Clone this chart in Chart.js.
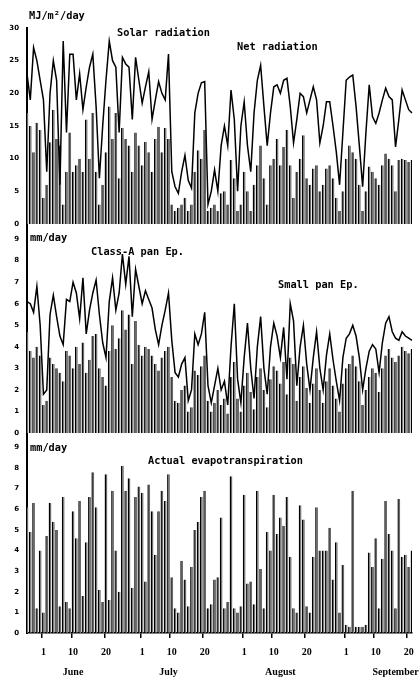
<!DOCTYPE html>
<html>
<head>
<meta charset="utf-8">
<script src="https://cdn.jsdelivr.net/npm/chart.js@4.4.1/dist/chart.umd.min.js"></script>
<style>
  body { margin: 0; background: #fff; }
  #wrap { width: 420px; height: 678px; }
</style>
</head>
<body>
<div id="wrap"><canvas id="evapChart" width="420" height="678"></canvas></div>
<script>
// period shown: 27 May .. 21 September
const months = ['May', 'June', 'July', 'August', 'September'];
const monthFirstDay = [27, 1, 1, 1, 1];
const monthLastDay = [31, 30, 31, 31, 21];
const tickDays = [1, 10, 20];
const monthLabels = ['June', 'July', 'August', 'September'];
const monthLabelDay = [10, 9, 12, 16];

// MJ/m2/day
const solarRad = [23, 19, 27, 25, 22, 19, 8, 20, 25, 22, 6, 28, 14, 26, 26, 19, 23, 17.5, 21, 24,
  26, 18, 7, 15, 22, 28, 25, 24, 14, 25.5, 24.5, 24, 16, 25.5, 22, 18.5, 21, 23.3, 16, 19,
  21.8, 20, 19, 26, 8, 5.7, 4.7, 8, 10.5, 6.7, 5.5, 17, 20, 21.6, 21.8, 3, 5, 8.3, 5, 12,
  15, 12, 20.5, 16, 5, 15, 18.7, 12, 8, 17, 22, 24.3, 18, 12, 17, 21, 21.3, 20, 22, 22.3,
  18, 12.4, 16, 20, 19.5, 17, 19, 21, 19, 12.4, 15, 18.7, 18.7, 15, 11, 6, 14, 22, 22.5, 22.8,
  18, 12, 5.7, 14, 21.3, 16.4, 15.4, 17, 19, 20.8, 19.5, 19, 11.8, 16, 20.5, 19, 17.5, 17];
const netRad = [17, 15, 11, 15.5, 14.4, 4, 6, 12.5, 17.5, 13, 12, 3, 8, 14, 8, 9, 10, 8, 16, 10,
  17, 8, 3, 6, 11, 18, 13, 17, 7, 14.7, 13, 12, 8, 14, 12, 9, 12.6, 11, 8, 13,
  14.9, 11, 14.7, 13, 3, 2, 2.5, 3, 4, 2, 3, 8, 11.3, 10, 14.4, 2, 2.5, 3, 2, 4.7,
  5, 3, 9.8, 7, 2, 3, 8, 5, 2, 6, 9, 12, 7, 3, 9, 10, 13, 9, 11.8, 14.4,
  9, 4, 8, 10, 13.6, 7, 6, 8.5, 9, 5, 6, 8.5, 9, 7, 4, 2, 5, 10, 12, 11,
  10, 6, 2, 5, 8.8, 8, 7, 6, 9, 10.8, 10, 9, 5, 9.8, 10, 9.8, 9.5, 9.8];

// mm/day
const classAPan = [6.1, 6.0, 5.6, 6.8, 5.0, 1.8, 2.0, 5.5, 6.4, 5.4, 4.5, 4.1, 6.2, 6.1, 7.0, 6.5, 5.3, 7.2, 4.6, 5.7,
  6.5, 7.1, 5.5, 4.2, 3.5, 6.1, 7.2, 5.7, 6.5, 8.3, 6.9, 8.2, 5.4, 7.6, 6.8, 6.0, 6.6, 6.2, 5.8, 4.8,
  4.1, 5.0, 5.7, 6.5, 4.3, 2.8, 2.6, 3.2, 3.5, 1.5, 2.0, 4.6, 4.1, 4.6, 5.6, 2.2, 1.4, 2.2, 3.0, 2.0,
  2.4, 1.3, 4.0, 6.0, 2.5, 1.4, 3.5, 5.1, 3.0, 1.6, 4.0, 5.4, 3.0, 1.8, 4.0, 5.1, 4.5, 3.5, 4.9, 2.5,
  6.0, 5.2, 2.2, 4.0, 5.0, 3.2, 2.0, 3.5, 4.7, 3.0, 2.0, 3.6, 4.6, 3.4, 2.4, 1.5, 3.5, 4.4, 4.6, 5.0,
  4.5, 3.5, 2.0, 3.0, 3.8, 4.1, 3.9, 2.8, 4.2, 5.1, 5.4, 4.7, 4.4, 4.3, 4.7, 4.5, 4.4, 4.3];
const smallPan = [4.7, 3.8, 3.5, 4.0, 3.6, 1.3, 1.5, 3.5, 3.2, 3.0, 2.8, 2.4, 3.8, 3.6, 3.0, 4.0, 3.2, 4.2, 2.8, 3.4,
  4.5, 4.6, 3.0, 2.6, 2.2, 3.8, 5.0, 3.9, 4.4, 5.7, 4.8, 5.5, 3.2, 5.2, 4.1, 3.6, 4.0, 3.9, 3.6, 3.2,
  2.9, 3.5, 3.8, 4.0, 2.6, 1.5, 1.4, 2.0, 2.2, 1.0, 1.2, 2.9, 2.7, 3.1, 3.6, 1.5, 1.0, 1.4, 2.0, 1.3,
  1.6, 0.9, 2.6, 3.3, 1.6, 1.0, 2.2, 2.8, 1.9, 1.1, 2.6, 3.0, 2.0, 1.2, 2.5, 3.1, 2.9, 2.3, 3.3, 1.8,
  3.5, 3.2, 1.5, 2.6, 3.1, 2.1, 1.4, 2.3, 3.0, 2.0, 1.4, 2.4, 3.0, 2.2, 1.6, 1.0, 2.3, 3.0, 3.2, 3.6,
  3.1, 2.4, 1.3, 2.0, 2.6, 3.0, 2.8, 1.9, 3.0, 3.6, 3.9, 3.5, 3.3, 3.6, 4.0, 3.8, 3.7, 3.9];
const actualET = [6.1, 4.9, 6.3, 1.2, 4.0, 1.0, 4.7, 6.3, 5.4, 5.0, 1.3, 6.6, 1.5, 1.2, 5.9, 4.6, 6.4, 1.8, 4.4, 6.6,
  7.8, 6.1, 2.1, 1.5, 7.7, 1.6, 6.9, 4.0, 2.0, 8.1, 6.9, 7.5, 2.2, 6.6, 7.1, 6.8, 2.5, 7.2, 5.9, 3.8,
  5.9, 6.9, 6.4, 7.7, 2.7, 1.2, 1.0, 3.5, 2.6, 1.3, 3.2, 5.0, 5.4, 6.6, 6.9, 1.2, 1.4, 2.6, 2.7, 5.6,
  1.2, 1.5, 7.6, 1.2, 1.0, 1.3, 6.7, 2.4, 2.5, 1.4, 6.9, 3.1, 1.2, 4.9, 4.0, 6.7, 4.8, 5.6, 5.2, 6.6,
  3.7, 1.2, 1.0, 6.2, 5.5, 1.3, 1.0, 3.7, 6.1, 4.0, 4.0, 4.0, 5.1, 2.6, 4.4, 1.0, 3.3, 0.4, 0.3, 6.9,
  0.3, 0.3, 0.3, 0.4, 3.9, 3.2, 4.6, 1.2, 3.6, 6.4, 4.8, 4.0, 1.2, 6.5, 3.7, 3.8, 3.2, 4.0];

// day numbers and category labels
let dayNums = [];
let dayLabels = [];
for (let m = 0; m < months.length; m++) {
    for (let d = monthFirstDay[m]; d <= monthLastDay[m]; d++) {
        dayNums.push(d);
        dayLabels.push(d + ' ' + months[m]);
    }
}

const monoFont = 'bold 10.3px "DejaVu Sans Mono"';

// titles and month names
const textPlugin = {
    id: 'textPlugin',
    afterDraw(chart) {
        const c = chart.ctx;
        c.save();
        c.fillStyle = '#000';
        c.font = monoFont;
        c.textBaseline = 'middle';
        c.textAlign = 'left';
        c.fillText('MJ/m²/day', 29, 16);
        c.fillText('Solar radiation', 117, 33);
        c.fillText('Net radiation', 237, 47);
        c.fillText('mm/day', 30, 238);
        c.fillText('Class-A pan Ep.', 91, 252);
        c.fillText('Small pan Ep.', 278, 285);
        c.fillText('mm/day', 30, 448);
        c.fillText('Actual evapotranspiration', 148, 461);

        // month names under the x axis
        const x = chart.scales.x;
        c.font = 'bold 10px "Liberation Serif"';
        c.textAlign = 'center';
        for (let i = 0; i < monthLabels.length; i++) {
            let m = months.indexOf(monthLabels[i]);
            let idx = dayLabels.indexOf(monthLabelDay[i] + ' ' + months[m]);
            c.fillText(monthLabels[i], x.getPixelForValue(idx), 672);
        }
        c.restore();
    }
};

function yAxis(max, step, weight, stackWeight) {
    return {
        type: 'linear',
        position: 'left',
        stack: 'panels',
        stackWeight: stackWeight,
        weight: weight,
        min: 0,
        max: max,
        grid: { display: false, drawTicks: false },
        border: { display: true, color: '#000', width: 2 },
        ticks: {
            stepSize: step,
            includeBounds: false,
            padding: 8,
            color: '#000',
            font: { family: 'DejaVu Sans', size: 7, weight: 'bold' },
            callback: v => Number.isInteger(v) ? v : ''
        },
        afterFit: scale => { scale.width = 27; }
    };
}

function barSet(data, axis) {
    return {
        type: 'bar',
        data: data,
        yAxisID: axis,
        grouped: false,
        backgroundColor: '#6a6a6a',
        borderColor: '#000',
        borderWidth: { left: 1.4, right: 0, top: 0, bottom: 0 },
        borderSkipped: false,
        barPercentage: 0.85,
        categoryPercentage: 1,
        order: 2
    };
}

function lineSet(data, axis) {
    return {
        type: 'line',
        data: data,
        yAxisID: axis,
        borderColor: '#000',
        borderWidth: 1.5,
        pointRadius: 0,
        tension: 0,
        fill: false,
        order: 1
    };
}

let ctx = document.getElementById('evapChart').getContext('2d');
let evapChart = new Chart(ctx, {
    type: 'bar',
    data: {
        labels: dayLabels,
        datasets: [
            barSet(netRad, 'yRad'),
            lineSet(solarRad, 'yRad'),
            barSet(smallPan, 'yPan'),
            lineSet(classAPan, 'yPan'),
            barSet(actualET, 'yEt')
        ]
    },
    options: {
        responsive: false,
        animation: false,
        devicePixelRatio: 1,
        layout: { padding: { top: 28, left: 0, right: 0, bottom: 0 } },
        plugins: {
            legend: { display: false },
            tooltip: { enabled: false }
        },
        scales: {
            x: {
                type: 'category',
                offset: false,
                grid: {
                    drawOnChartArea: false,
                    drawTicks: true,
                    tickLength: 5,
                    lineWidth: 1.5,
                    color: c => tickDays.includes(dayNums[c.index]) ? '#000' : 'rgba(0,0,0,0)'
                },
                border: { display: true, color: '#000', width: 1.5 },
                ticks: {
                    autoSkip: false,
                    maxRotation: 0,
                    padding: 8,
                    color: '#000',
                    font: { family: 'Liberation Serif', size: 10, weight: 'bold' },
                    callback: (v, i) => tickDays.includes(dayNums[i]) ? String(dayNums[i]) : ''
                },
                afterFit: scale => { scale.height = 45; }
            },
            yRad: yAxis(30, 5, 3, 196),
            yPan: yAxis(9.7, 1, 2, 209),
            yEt: yAxis(9.7, 1, 1, 200)
        }
    },
    plugins: [textPlugin]
});
</script>
</body>
</html>
